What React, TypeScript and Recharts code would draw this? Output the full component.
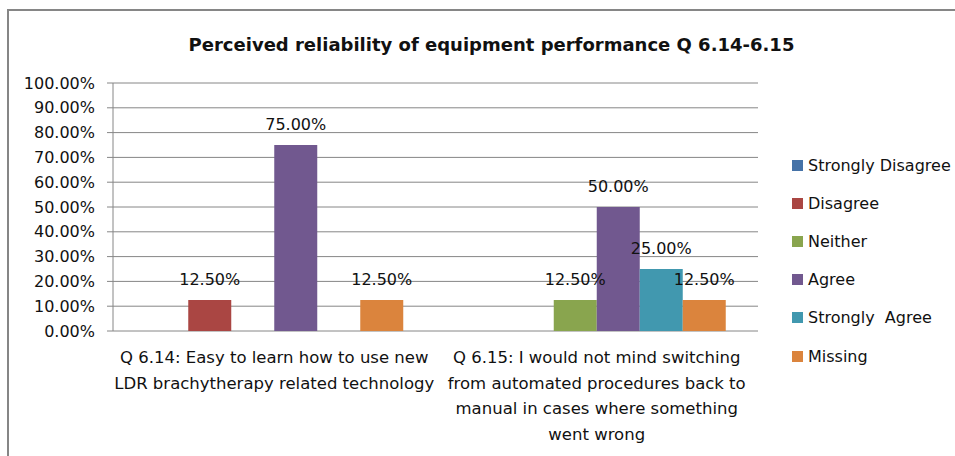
import React from 'react';
import { BarChart, Bar, XAxis, YAxis, CartesianGrid, Legend, LabelList } from 'recharts';

// Survey questions (x-axis categories); "\n" marks the line breaks of each label
const categories: string[] = [
  'Q 6.14: Easy to learn how to use new\nLDR brachytherapy related technology',
  'Q 6.15: I would not mind switching\nfrom automated procedures back to\nmanual in cases where something\nwent wrong',
];

// Percent of responses per answer option (null = no responses in that cell)
const stronglyDisagree: (number | null)[] = [null, null];
const disagree: (number | null)[] = [12.5, null];
const neither: (number | null)[] = [null, 12.5];
const agree: (number | null)[] = [75, 50];
const stronglyAgree: (number | null)[] = [null, 25];
const missing: (number | null)[] = [12.5, 12.5];

const yTicks: number[] = [0, 10, 20, 30, 40, 50, 60, 70, 80, 90, 100];

const seriesDefs = [
  { key: 'sd', name: 'Strongly Disagree', values: stronglyDisagree, color: '#4572A7' },
  { key: 'd', name: 'Disagree', values: disagree, color: '#AA4643' },
  { key: 'n', name: 'Neither', values: neither, color: '#89A54E' },
  { key: 'a', name: 'Agree', values: agree, color: '#71588F' },
  { key: 'sa', name: 'Strongly  Agree', values: stronglyAgree, color: '#4198AF' },
  { key: 'm', name: 'Missing', values: missing, color: '#DB843D' },
];

const rows = categories.map((c, i) => {
  const row: Record<string, string | number | null> = { category: c };
  seriesDefs.forEach((s) => {
    row[s.key] = s.values[i];
  });
  return row;
});

const FONT = '"DejaVu Sans", sans-serif';
const TEXT = '#111111';
const GRID = '#868686';

const pct = (v: number) => `${v.toFixed(2)}%`;

const CategoryTick = (props: any) => {
  const { x, y, payload } = props;
  const lines = String(payload.value).split('\n');
  return (
    <text x={x} y={y} textAnchor="middle" fill={TEXT} fontFamily={FONT} fontSize={16.5}>
      {lines.map((line, i) => (
        <tspan key={i} x={x} dy={i === 0 ? 24 : 25.7}>
          {line}
        </tspan>
      ))}
    </text>
  );
};

const LegendContent = () => (
  <div style={{ fontFamily: FONT, fontSize: 16, color: TEXT, textAlign: 'left' }}>
    {seriesDefs.map((s) => (
      <div key={s.key} style={{ display: 'flex', alignItems: 'center', height: 38.2, whiteSpace: 'pre' }}>
        <span style={{ display: 'inline-block', width: 11, height: 11, background: s.color, marginRight: 5 }} />
        <span>{s.name}</span>
      </div>
    ))}
  </div>
);

const ValueLabel = (props: any) => {
  const { x, y, width, value } = props;
  if (value === null || value === undefined) return null;
  return (
    <text x={x + width / 2} y={y - 15} textAnchor="middle" fill={TEXT} fontFamily={FONT} fontSize={16}>
      {pct(Number(value))}
    </text>
  );
};

export default function App() {
  return (
    <div style={{ position: 'absolute', left: 0, top: 0, width: 955, height: 456, overflow: 'hidden', background: '#fff' }}>
      <div
        style={{
          position: 'absolute',
          left: 7,
          top: 9,
          width: 1000,
          height: 500,
          border: `2px solid ${GRID}`,
          boxSizing: 'border-box',
        }}
      />
      <div
        style={{
          position: 'absolute',
          left: 0,
          top: 34,
          width: 983,
          textAlign: 'center',
          fontFamily: FONT,
          fontWeight: 'bold',
          fontSize: 18,
          color: TEXT,
          whiteSpace: 'pre',
        }}
      >
        Perceived reliability of equipment performance Q 6.14-6.15
      </div>
      <div style={{ position: 'absolute', left: 0, top: 0 }}>
        <BarChart
          width={955}
          height={456}
          data={rows}
          margin={{ top: 83, right: 197, bottom: 0, left: 0 }}
          barCategoryGap="10%"
          barGap={0}
        >
          <CartesianGrid vertical={false} stroke={GRID} strokeWidth={1} />
          <XAxis
            xAxisId="edges"
            type="number"
            domain={[0, 2]}
            ticks={[0, 1, 2]}
            allowDataOverflow
            height={0}
            tick={false}
            tickSize={6}
            tickLine={{ stroke: GRID }}
            axisLine={{ stroke: GRID }}
          />
          <XAxis
            xAxisId="cat"
            dataKey="category"
            type="category"
            height={125}
            tickLine={false}
            axisLine={false}
            interval={0}
            tick={<CategoryTick />}
          />
          <YAxis
            width={113}
            domain={[0, 100]}
            ticks={yTicks}
            tickFormatter={pct}
            tickSize={6}
            tickMargin={12}
            tickLine={{ stroke: GRID }}
            axisLine={{ stroke: GRID }}
            tick={{ fill: TEXT, fontFamily: FONT, fontSize: 16 }}
          />
          <Legend
            layout="horizontal"
            align="center"
            verticalAlign="middle"
            content={<LegendContent />}
            wrapperStyle={{ left: 792, top: 146, width: 180 }}
          />
          {seriesDefs.map((s) => (
            <Bar key={s.key} xAxisId="cat" dataKey={s.key} name={s.name} fill={s.color} isAnimationActive={false}>
              <LabelList dataKey={s.key} content={<ValueLabel />} />
            </Bar>
          ))}
        </BarChart>
      </div>
    </div>
  );
}
